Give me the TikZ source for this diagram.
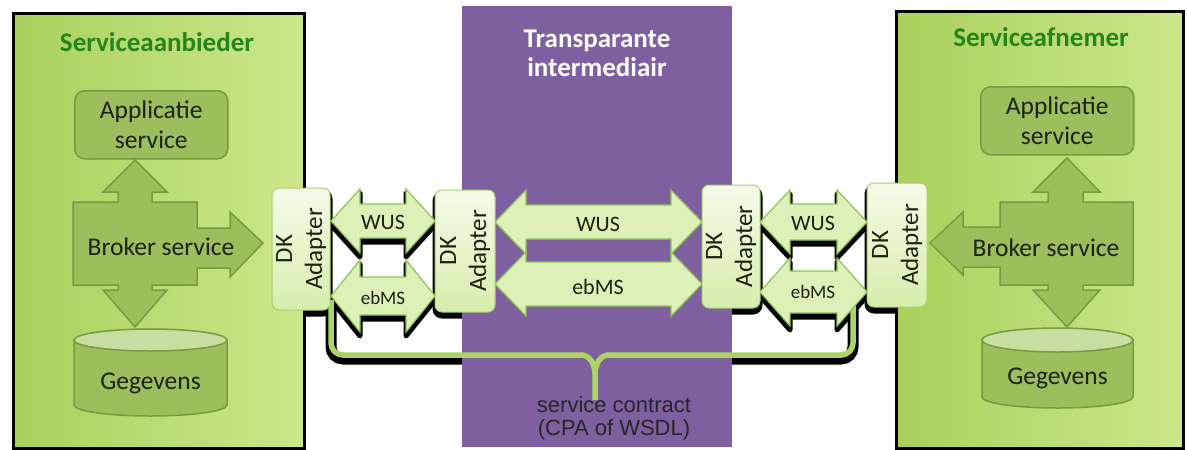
\documentclass[tikz,border=0pt]{standalone}
\usepackage{fontspec}
\setmainfont{Carlito}
\newfontfamily\arialf{Liberation Sans}
\definecolor{pgL}{RGB}{170,208,92}
\definecolor{pgR}{RGB}{204,231,140}
\definecolor{innerF}{RGB}{156,190,92}
\definecolor{innerD}{RGB}{118,154,62}
\definecolor{cyltop}{RGB}{200,221,160}
\definecolor{titleg}{RGB}{38,132,28}
\definecolor{purp}{RGB}{126,96,160}
\definecolor{adT}{RGB}{246,251,234}
\definecolor{adB}{RGB}{214,237,172}
\definecolor{adD}{RGB}{168,208,108}
\definecolor{arF}{RGB}{220,240,184}
\definecolor{arD}{RGB}{146,196,84}
\definecolor{brk}{RGB}{172,212,100}
\definecolor{txt}{RGB}{28,34,18}
\newcommand\DArr[7]{%
  \path[#7] ({#1},{#3}) -- ({#1+#6},{#3-#5}) -- ({#1+#6},{#3-#4}) -- ({#2-#6},{#3-#4}) -- ({#2-#6},{#3-#5}) -- ({#2},{#3}) -- ({#2-#6},{#3+#5}) -- ({#2-#6},{#3+#4}) -- ({#1+#6},{#3+#4}) -- ({#1+#6},{#3+#5}) -- cycle;}
\begin{document}
\begin{tikzpicture}[x=1pt,y=-1pt,
  panel/.style={draw=black, line width=2.5, left color=pgL, right color=pgR, inner sep=0, anchor=north west},
  ptitle/.style={text=titleg, font=\fontsize{27}{30}\selectfont\bfseries},
  appbox/.style={draw=innerD, line width=1.5, fill=innerF, rounded corners=10, inner sep=0},
  lbl/.style={text=txt, font=\fontsize{25.5}{30}\selectfont, align=center, inner sep=0},
  shapef/.style={fill=innerF, draw=innerD, line width=1.5, line join=miter},
  shd/.style={fill=black, draw=black, line width=5, line join=round},
  adapter/.style={draw=adD, line width=1, top color=adT, bottom color=adB, rounded corners=7, inner sep=0},
  adtext/.style={rotate=90, align=center, text=txt, font=\fontsize{25}{30}\selectfont, inner sep=0},
  arrf/.style={fill=arF, draw=arD, line width=1.2, line join=miter},
  arrtext/.style={text=txt, inner sep=0}]
\useasboundingbox (0,0) rectangle (1187,450);
\fill[white] (0,0) rectangle (1187,450);

% ---------- coordinates of the contract bracket
\coordinate (bl) at (331,300);
\coordinate (br) at (853,300);
\coordinate (bd) at (595,400);

% ---------- black shadows (visible on the white band only)
\begin{scope}[shift={(0,4)}]
  \DArr{331}{435}{221}{17}{32}{29}{shd}
  \DArr{331}{435}{296}{19}{36}{29}{shd}
  \DArr{760}{867}{222}{18}{32}{30}{shd}
  \DArr{760}{867}{292}{21}{34}{30}{shd}
  \draw[shd, rounded corners=7] (272,188) rectangle (330,310);
  \draw[shd, rounded corners=7] (435,190) rectangle (495,312);
  \draw[shd, rounded corners=7] (702,185) rectangle (760,308);
  \draw[shd, rounded corners=7] (867,183) rectangle (927,307);
  \draw[black, line width=11, rounded corners=12] (bl) |- (bd |- 0,355) -| (br);
\end{scope}

% ---------- panels
\node[panel, minimum width=291, minimum height=435] (lp) at (12,12) {};
\node[panel, minimum width=287, minimum height=437] (rp) at (895,10) {};
\node[fill=purp, inner sep=0, anchor=north west, minimum width=270, minimum height=441] (mp) at (462,6) {};

\node[ptitle] (lt) at (157,42) {Serviceaanbieder};
\node[ptitle] (rt) at (1041,37) {Serviceafnemer};
\node[text=white, align=center, font=\fontsize{27}{29}\selectfont\bfseries, inner sep=0] (mt) at (597,53) {Transparante\\intermediair};

% ---------- contract bracket
\draw[brk, line width=5.5, rounded corners=12] (bl) |- (583,355);
\draw[brk, line width=5.5, rounded corners=12] (br) |- (607,355);
\draw[brk, line width=5.5] (581,355) to[out=0,in=90] (bd |- 0,374) -- (bd);
\draw[brk, line width=5.5] (609,355) to[out=180,in=90] (bd |- 0,374);
\node[text=black!85, align=center, font=\arialf\fontsize{22}{23}\selectfont, inner sep=0] (sc) at (614,418) {service contract\\(CPA of WSDL)};

% ---------- left side: Serviceaanbieder
\node[appbox, minimum width=153, minimum height=68, anchor=north west] (la) at (74,90) {};
\node[lbl] (lat) at (la.center) {Applicatie\\service};
\path[shapef] (135,160) -- (167,192) -- (152,192) -- (152,202) -- (197,202) -- (197,228) -- (230,228) -- (230,212) -- (263,243) -- (230,277) -- (230,268) -- (197,268) -- (197,285) -- (152,285) -- (152,290) -- (167,290) -- (135,327) -- (103,290) -- (118,290) -- (118,285) -- (73,285) -- (73,202) -- (118,202) -- (118,192) -- (103,192) -- cycle;
\node[lbl] (lb) at (161,247) {Broker service};
\path[shapef] (74,340) -- (74,405) arc[start angle=180, end angle=0, x radius=76.5, y radius=11] -- (227,340) -- cycle;
\path[fill=cyltop, draw=innerD, line width=1.5] (150.5,340) ellipse [x radius=76.5, y radius=11];
\node[lbl] (lg) at (150.5,383) {Gegevens};

% ---------- right side: Serviceafnemer
\node[appbox, minimum width=153, minimum height=68, anchor=north west] (ra) at (980,86) {};
\node[lbl] (rat) at (ra.center) {Applicatie\\service};
\path[shapef] (1067,158) -- (1100,192) -- (1083,192) -- (1083,202) -- (1133,202) -- (1133,285) -- (1083,285) -- (1083,290) -- (1100,290) -- (1067,327) -- (1033,290) -- (1048,290) -- (1048,285) -- (1000,285) -- (1000,267) -- (963,267) -- (963,275) -- (930,243) -- (963,212) -- (963,227) -- (1000,227) -- (1000,202) -- (1048,202) -- (1048,192) -- (1033,192) -- cycle;
\node[lbl] (rb) at (1046,248) {Broker service};
\path[shapef] (982,340) -- (982,397) arc[start angle=180, end angle=0, x radius=75.5, y radius=11] -- (1133,340) -- cycle;
\path[fill=cyltop, draw=innerD, line width=1.5] (1057.5,340) ellipse [x radius=75.5, y radius=12];
\node[lbl] (rg) at (1057.5,378) {Gegevens};

% ---------- transport arrows
\DArr{331}{435}{221}{17}{32}{29}{arrf}
\DArr{331}{435}{296}{19}{36}{29}{arrf}
\DArr{495}{702}{222}{17}{32}{31}{arrf}
\DArr{495}{702}{284}{22}{32}{31}{arrf}
\DArr{760}{867}{222}{18}{32}{30}{arrf}
\DArr{760}{867}{292}{21}{34}{30}{arrf}
\node[arrtext, font=\fontsize{22}{24}\selectfont] (w1) at (383,222) {WUS};
\node[arrtext, font=\fontsize{19}{22}\selectfont] (e1) at (383,298) {ebMS};
\node[arrtext, font=\fontsize{22}{24}\selectfont] (w2) at (598,224) {WUS};
\node[arrtext, font=\fontsize{22}{24}\selectfont] (e2) at (598,287) {ebMS};
\node[arrtext, font=\fontsize{22}{24}\selectfont] (w3) at (813,223) {WUS};
\node[arrtext, font=\fontsize{19}{22}\selectfont] (e3) at (813,292) {ebMS};

% ---------- DK adapters
\node[adapter, minimum width=58, minimum height=122] (a1) at (301,249) {};
\node[adapter, minimum width=60, minimum height=122] (a2) at (465,251) {};
\node[adapter, minimum width=58, minimum height=123] (a3) at (731,246.5) {};
\node[adapter, minimum width=60, minimum height=124] (a4) at (897,245) {};
\node[adtext] (a1t) at (a1.center) {DK\\Adapter};
\node[adtext] (a2t) at (a2.center) {DK\\Adapter};
\node[adtext] (a3t) at (a3.center) {DK\\Adapter};
\node[adtext] (a4t) at (a4.center) {DK\\Adapter};
\end{tikzpicture}
\end{document}
